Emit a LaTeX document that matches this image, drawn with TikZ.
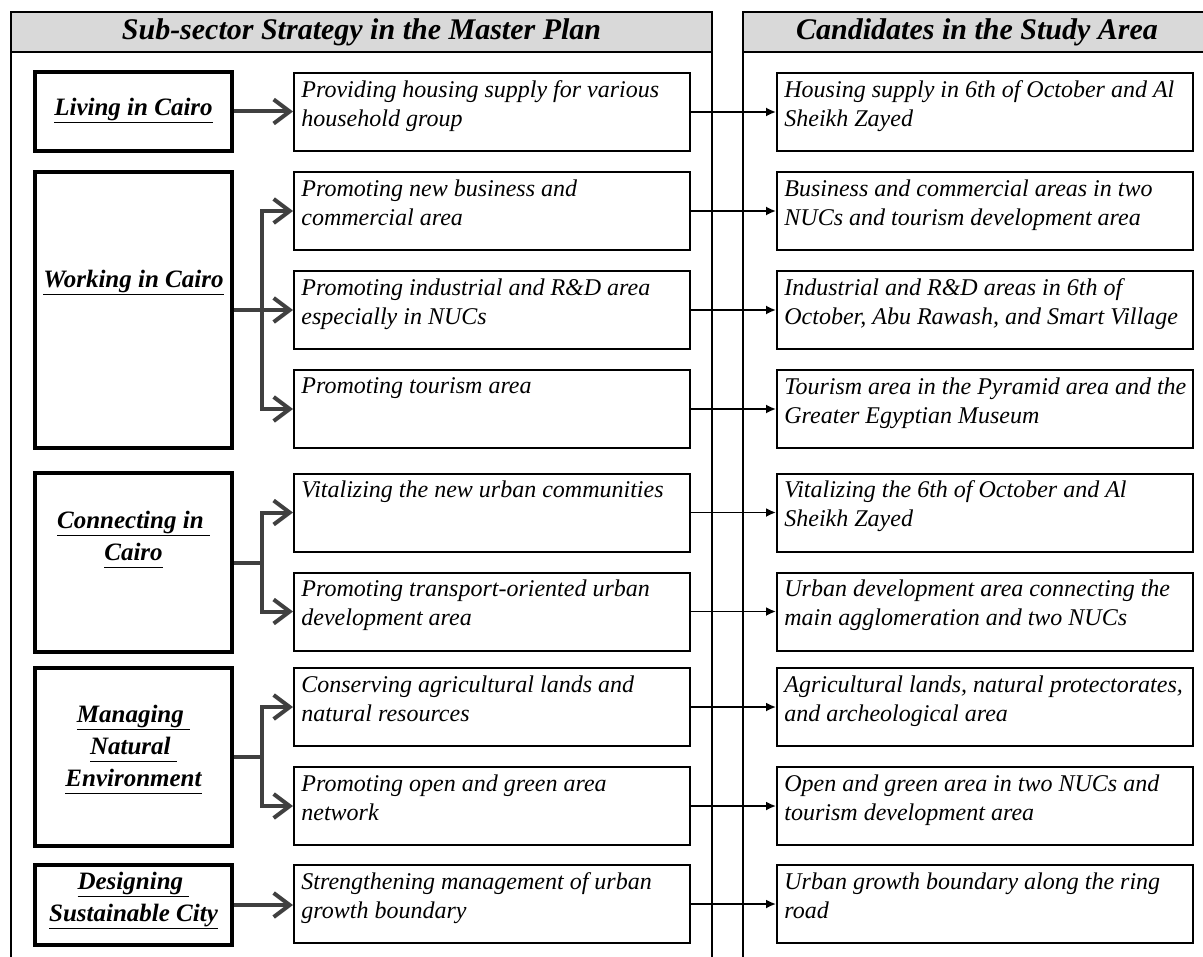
\documentclass[tikz,border=0pt]{standalone}
\usepackage{fontspec}
\setmainfont{Liberation Serif}
\usetikzlibrary{positioning,arrows.meta}
\definecolor{arrowgray}{HTML}{404040}
\definecolor{headgray}{HTML}{D9D9D9}
\newsavebox{\ulsave}
\newcommand{\ulbox}[1]{\sbox{\ulsave}{#1}\rlap{\rule[-3.8pt]{\wd\ulsave}{0.9pt}}\usebox{\ulsave}}
\tikzset{
  headbar/.style={draw, line width=0.8pt, fill=headgray, minimum height=20pt, inner sep=0pt, outer sep=0pt, font=\fontsize{15}{18}\selectfont\bfseries\itshape},
  leftbox/.style={draw, line width=2pt, minimum width=98.5pt, inner sep=0pt},
  lefttxt/.style={align=center, inner sep=0pt, font=\fontsize{12.5}{16}\selectfont\bfseries\itshape},
  stratbox/.style={draw, line width=1pt, minimum width=198pt, minimum height=39pt, inner sep=0pt},
  candbox/.style={draw, line width=1pt, minimum width=208pt, minimum height=39pt, inner sep=0pt},
  boxtxt/.style={align=left, inner sep=4pt, font=\fontsize{12}{14.5}\selectfont\itshape},
  grayline/.style={draw=arrowgray, line width=2pt},
  grayarrow/.style={grayline, -{Straight Barb[length=8pt,width=12pt]}},
  thinarrow/.style={line width=0.9pt, -{Latex[length=5pt,width=4.5pt]}},
  panel/.style={line width=0.8pt}
}
\begin{document}
\begin{tikzpicture}[x=0.5pt, y=-0.5pt]
    \useasboundingbox (0,0) rectangle (1203,957);
    \node[headbar, minimum width=350.5pt] (hl) at (361.5,32) {Sub-sector Strategy in the Master Plan};
    \node[headbar, minimum width=234pt] (hr) at (977,32) {Candidates in the Study Area};
    \draw[panel] (hl.south west) -- ++(0,910);
    \draw[panel] (hl.south east) -- ++(0,910);
    \draw[panel] (hr.south west) -- ++(0,910);

    \node[leftbox, minimum height=39.5pt] (liv) at (133.5,111.5) {};
    \node[lefttxt] (livt) at (133.5,111) {\ulbox{Living in Cairo}};
    \node[leftbox, minimum height=138pt] (work) at (133.5,310) {};
    \node[lefttxt] (workt) at (133.5,283) {\ulbox{Working in Cairo}};
    \node[leftbox, minimum height=89.5pt] (conn) at (133.5,562.5) {};
    \node[lefttxt] (connt) at (133.5,540) {\ulbox{Connecting in\ }\\\ulbox{Cairo}};
    \node[leftbox, minimum height=89pt] (mng) at (133.5,757) {};
    \node[lefttxt] (mngt) at (133.5,750) {\ulbox{Managing\ }\\\ulbox{Natural\ }\\\ulbox{Environment}};
    \node[leftbox, minimum height=40pt] (dsgn) at (133.5,905) {};
    \node[lefttxt] (dsgnt) at (133.5,901) {\ulbox{Designing\ }\\\ulbox{Sustainable City}};

    \node[stratbox] (s1) at (492,112) {};
    \node[stratbox] (s2) at (492,211) {};
    \node[stratbox] (s3) at (492,310) {};
    \node[stratbox] (s4) at (492,409) {};
    \node[stratbox] (s5) at (492,512.5) {};
    \node[stratbox] (s6) at (492,611.5) {};
    \node[stratbox] (s7) at (492,707) {};
    \node[stratbox] (s8) at (492,806) {};
    \node[stratbox] (s9) at (492,904) {};
    \node[boxtxt, below right=0pt of s1.north west] (s1t) {Providing housing supply for various\\household group};
    \node[boxtxt, below right=0pt of s2.north west] (s2t) {Promoting new business and\\commercial area};
    \node[boxtxt, below right=0pt of s3.north west] (s3t) {Promoting industrial and R\&D area\\especially in NUCs};
    \node[boxtxt, below right=0pt of s4.north west] (s4t) {Promoting tourism area};
    \node[boxtxt, below right=0pt of s5.north west] (s5t) {Vitalizing the new urban communities};
    \node[boxtxt, below right=0pt of s6.north west] (s6t) {Promoting transport-oriented urban\\development area};
    \node[boxtxt, below right=0pt of s7.north west] (s7t) {Conserving agricultural lands and\\natural resources};
    \node[boxtxt, below right=0pt of s8.north west] (s8t) {Promoting open and green area\\network};
    \node[boxtxt, below right=0pt of s9.north west] (s9t) {Strengthening management of urban\\growth boundary};

    \node[candbox] (c1) at (985,112) {};
    \node[candbox] (c2) at (985,211) {};
    \node[candbox] (c3) at (985,310) {};
    \node[candbox] (c4) at (985,409) {};
    \node[candbox] (c5) at (985,512.5) {};
    \node[candbox] (c6) at (985,611.5) {};
    \node[candbox] (c7) at (985,707) {};
    \node[candbox] (c8) at (985,806) {};
    \node[candbox] (c9) at (985,904) {};
    \node[boxtxt, below right=0pt of c1.north west] (c1t) {Housing supply in 6th of October and Al\\Sheikh Zayed};
    \node[boxtxt, below right=0pt of c2.north west] (c2t) {Business and commercial areas in two\\NUCs and tourism development area};
    \node[boxtxt, below right=0pt of c3.north west] (c3t) {Industrial and R\&D areas in 6th of\\October, Abu Rawash, and Smart Village};
    \node[boxtxt, below right=0pt of c4.north west] (c4t) {Tourism area in the Pyramid area and the\\Greater Egyptian Museum};
    \node[boxtxt, below right=0pt of c5.north west] (c5t) {Vitalizing the 6th of October and Al\\Sheikh Zayed};
    \node[boxtxt, below right=0pt of c6.north west] (c6t) {Urban development area connecting the\\main agglomeration and two NUCs};
    \node[boxtxt, below right=0pt of c7.north west] (c7t) {Agricultural lands, natural protectorates,\\and archeological area};
    \node[boxtxt, below right=0pt of c8.north west] (c8t) {Open and green area in two NUCs and\\tourism development area};
    \node[boxtxt, below right=0pt of c9.north west] (c9t) {Urban growth boundary along the ring\\road};

    \draw[grayarrow] (liv.east) -- (liv.east -| s1.west);
    \coordinate (wj) at (262,310);
    \draw[grayline] (work.east) -- (wj);
    \draw[grayarrow] (wj) |- (s2.west);
    \draw[grayarrow] (wj) -- (s3.west);
    \draw[grayarrow] (wj) |- (s4.west);
    \coordinate (cj) at (262,562.5);
    \draw[grayline] (conn.east) -- (cj);
    \draw[grayarrow] (cj) |- (s5.west);
    \draw[grayarrow] (cj) |- (s6.west);
    \coordinate (mj) at (262,757);
    \draw[grayline] (mng.east) -- (mj);
    \draw[grayarrow] (mj) |- (s7.west);
    \draw[grayarrow] (mj) |- (s8.west);
    \draw[grayarrow] (dsgn.east) -- (dsgn.east -| s9.west);

    \draw[thinarrow] (s1.east) -- (c1.west);
    \draw[thinarrow] (s2.east) -- (c2.west);
    \draw[thinarrow] (s3.east) -- (c3.west);
    \draw[thinarrow] (s4.east) -- (c4.west);
    \draw[thinarrow] (s5.east) -- (c5.west);
    \draw[thinarrow] (s6.east) -- (c6.west);
    \draw[thinarrow] (s7.east) -- (c7.west);
    \draw[thinarrow] (s8.east) -- (c8.west);
    \draw[thinarrow] (s9.east) -- (c9.west);
\end{tikzpicture}
\end{document}
